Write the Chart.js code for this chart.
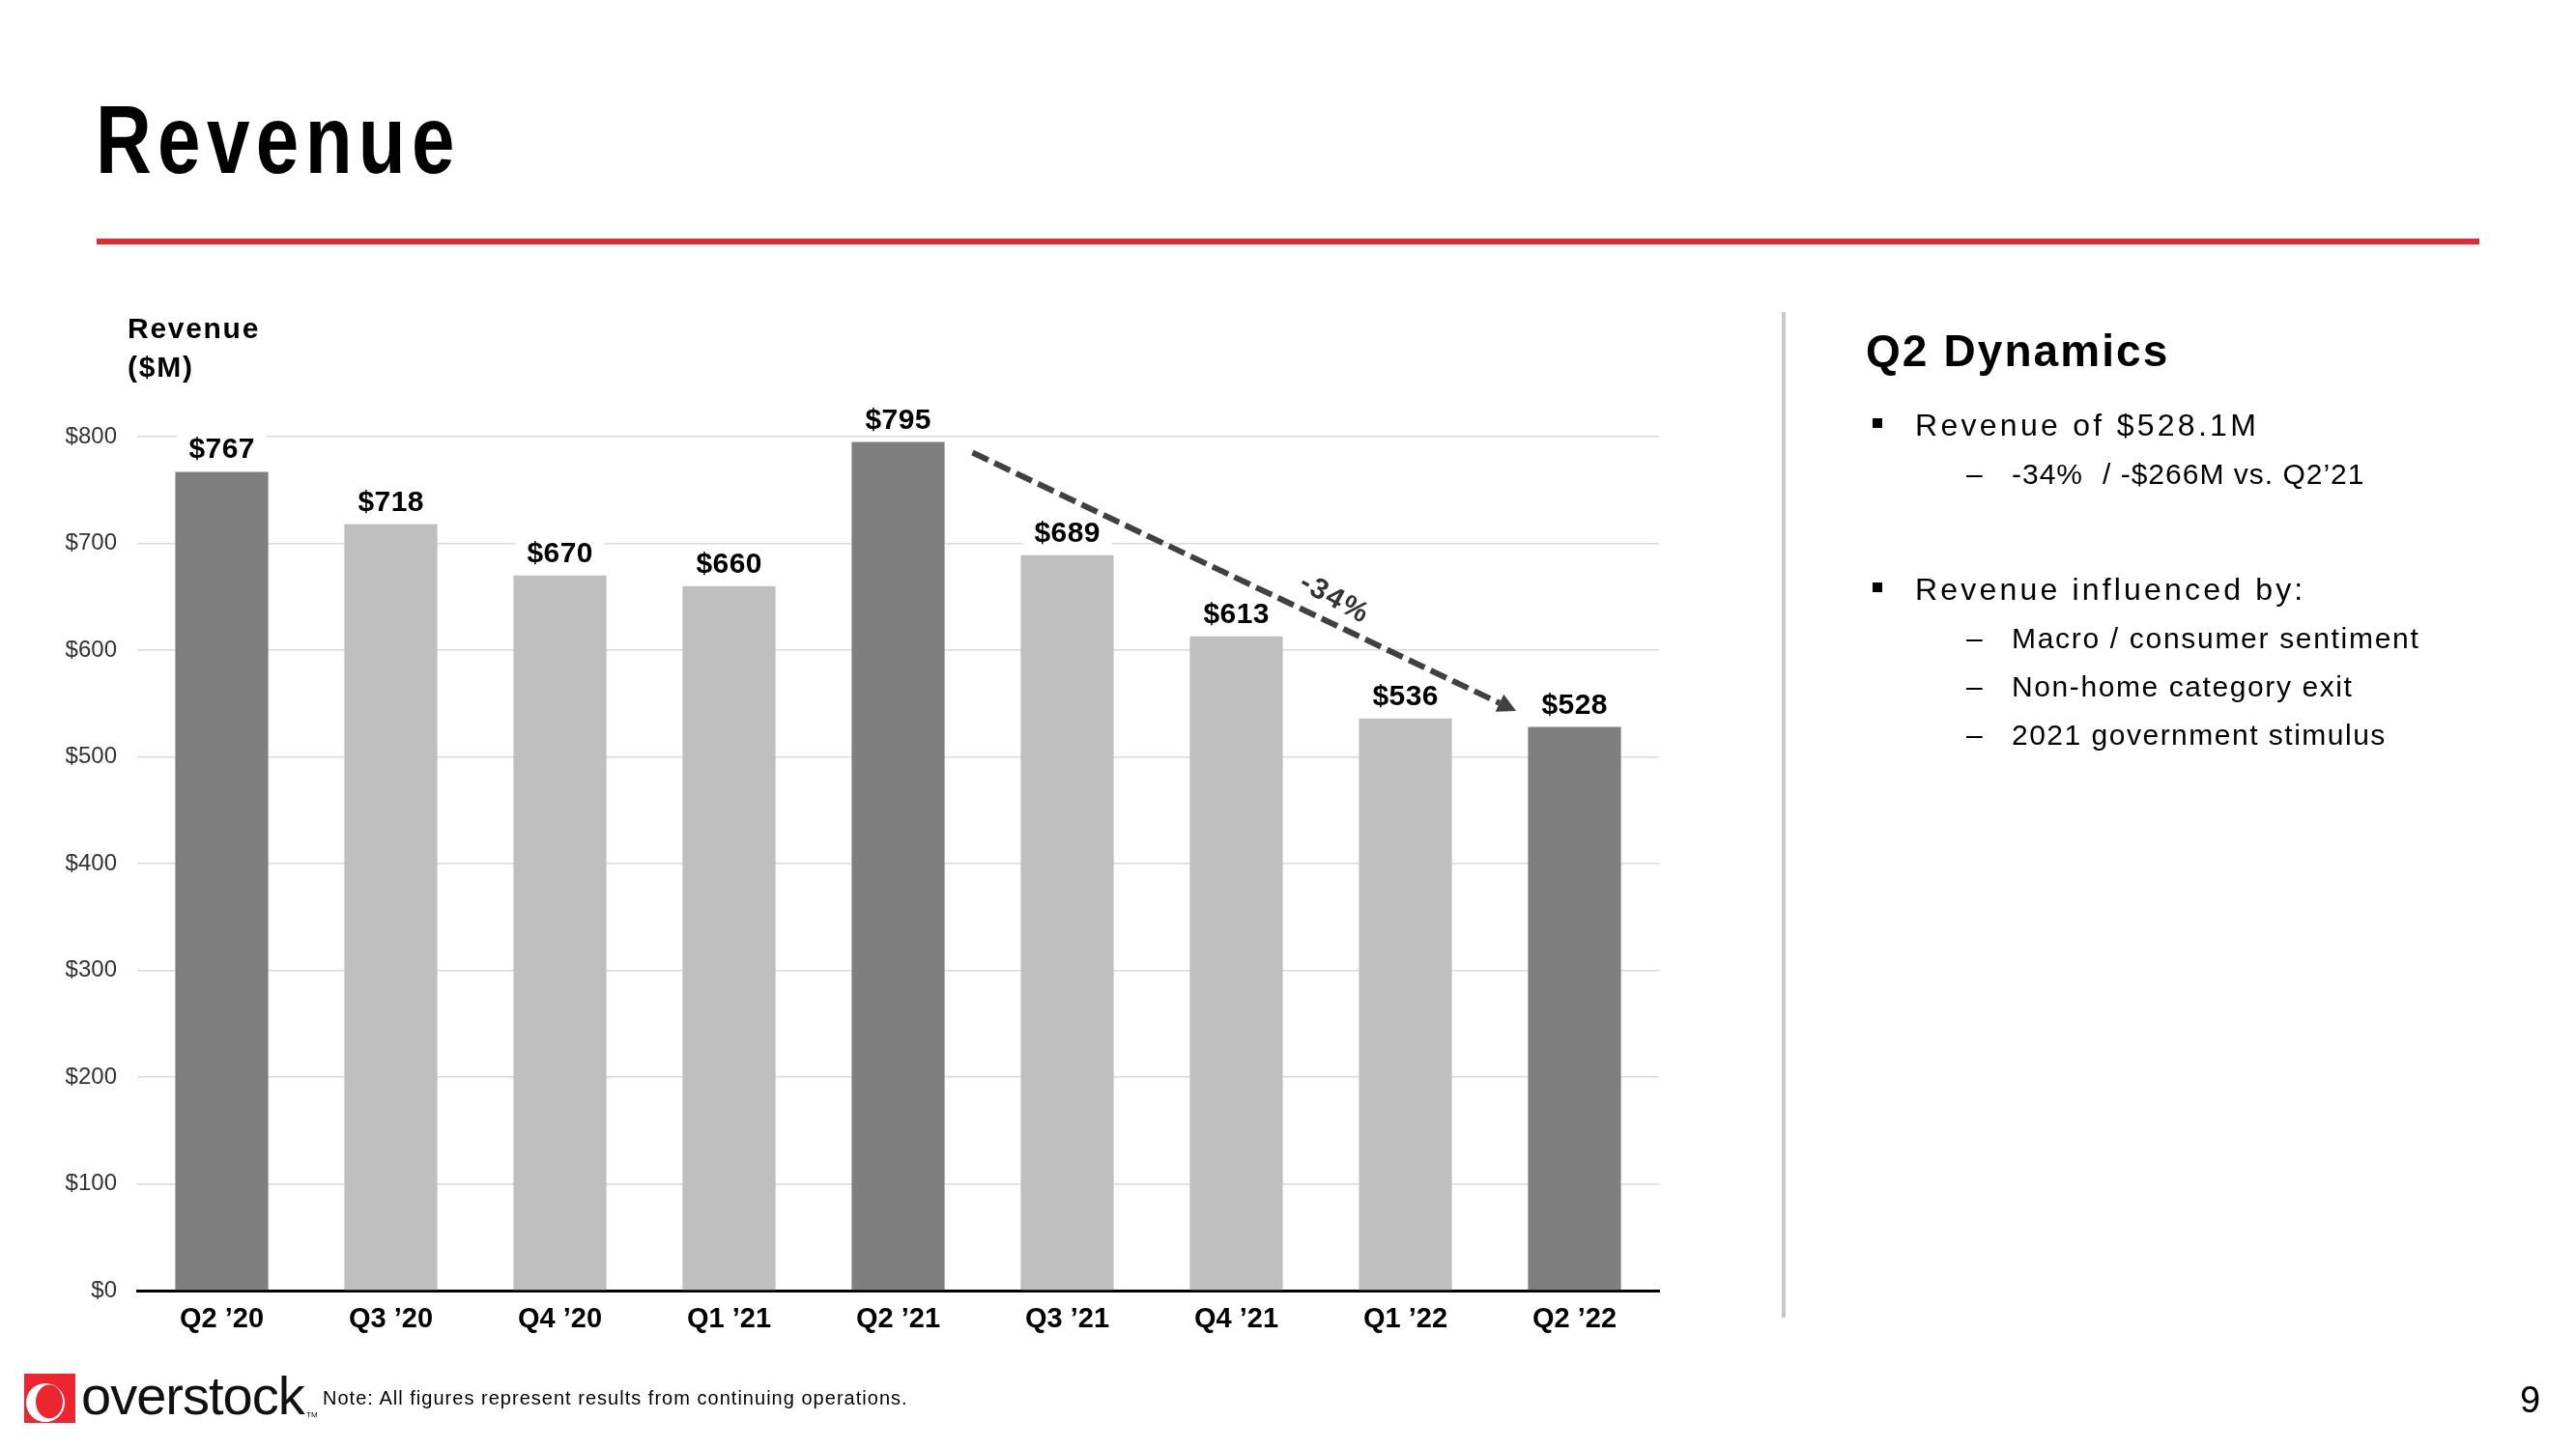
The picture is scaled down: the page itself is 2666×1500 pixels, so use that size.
<!DOCTYPE html>
<html><head><meta charset="utf-8">
<script src="https://cdn.jsdelivr.net/npm/chart.js@4.4.1/dist/chart.umd.min.js"></script>
<style>
html,body{margin:0;padding:0;background:#fff;}
#page{position:relative;width:2666px;height:1500px;overflow:hidden;font-family:'Liberation Sans',Arial,Helvetica,sans-serif;color:#000;background:#fff;}
#chartWrap{position:absolute;left:0;top:0;width:2666px;height:1500px;}
.t{position:absolute;white-space:nowrap;line-height:1;display:inline-block;transform-origin:0 0;}
.b{font-weight:bold;}
</style></head>
<body><div id="page">
<div id="chartWrap"><canvas id="c"></canvas></div>

<div class="t b" data-w="378" data-s="0.8" style="left:99px;top:94px;font-size:100px;">Revenue</div>
<div style="position:absolute;left:100px;top:247px;width:2466px;height:6px;background:#ED2530;"></div>

<div class="t b" data-w="137" style="left:132px;top:325px;font-size:30px;">Revenue</div>
<div class="t b" data-w="69" style="left:132px;top:365px;font-size:30px;">($M)</div>

<div style="position:absolute;left:1844px;top:323px;width:4px;height:1041px;background:#C8C8C8;"></div>

<div class="t b" data-w="314" style="left:1931px;top:340px;font-size:46px;">Q2 Dynamics</div>
<div style="position:absolute;left:1938px;top:433px;width:10px;height:10px;background:#000;"></div>
<div class="t" data-w="356" style="left:1982px;top:424px;font-size:32px;">Revenue of $528.1M</div>
<div class="t" style="left:2035px;top:476px;font-size:30px;">–</div>
<div class="t" data-w="74" style="left:2082px;top:476px;font-size:30px;">-34%</div>
<div class="t" style="left:2176px;top:476px;font-size:30px;letter-spacing:1px;">/ -$266M vs. Q2’21</div>

<div style="position:absolute;left:1938px;top:603px;width:10px;height:10px;background:#000;"></div>
<div class="t" data-w="404" style="left:1982px;top:594px;font-size:32px;">Revenue influenced by:</div>
<div class="t" style="left:2035px;top:646px;font-size:30px;">–</div>
<div class="t" data-w="422" style="left:2082px;top:646px;font-size:30px;">Macro / consumer sentiment</div>
<div class="t" style="left:2035px;top:696px;font-size:30px;">–</div>
<div class="t" data-w="354" style="left:2082px;top:696px;font-size:30px;">Non-home category exit</div>
<div class="t" style="left:2035px;top:746px;font-size:30px;">–</div>
<div class="t" data-w="388" style="left:2082px;top:746px;font-size:30px;">2021 government stimulus</div>

<svg style="position:absolute;left:25px;top:1422px;" width="53" height="51" viewBox="0 0 53 51">
  <rect x="0" y="0" width="53" height="51" fill="#ED2530"/>
  <ellipse cx="22" cy="30" rx="20" ry="20" fill="#fff"/>
  <ellipse cx="26" cy="29" rx="14" ry="17.5" fill="#ED2530"/>
</svg>
<div class="t" style="left:84px;top:1417px;font-size:56px;letter-spacing:-1px;color:#111;">overstock</div>
<div class="t" style="left:317px;top:1461px;font-size:8px;">TM</div>
<div class="t" data-w="605" style="left:334px;top:1437px;font-size:20px;">Note: All figures represent results from continuing operations.</div>
<div class="t" style="left:2608px;top:1430px;font-size:38px;">9</div>
</div>

<script>
const categories = ['Q2 ’20','Q3 ’20','Q4 ’20','Q1 ’21','Q2 ’21','Q3 ’21','Q4 ’21','Q1 ’22','Q2 ’22'];
const revenue = [767, 718, 670, 660, 795, 689, 613, 536, 528];
const valueLabels = ['$767','$718','$670','$660','$795','$689','$613','$536','$528'];
const highlighted = [true, false, false, false, true, false, false, false, true];
const yTickValues = [0, 100, 200, 300, 400, 500, 600, 700, 800];
const changeLabel = '-34%';
const changeFrom = 4;   // Q2 '21
const changeTo = 8;     // Q2 '22

const FONT = "'Liberation Sans', Arial, Helvetica, sans-serif";

// fit letter-spacing (and optional horizontal compression) of texts to the measured widths
document.querySelectorAll('[data-w]').forEach(el => {
  const s = parseFloat(el.dataset.s || '1');
  el.style.letterSpacing = '0px';
  const nat = el.offsetWidth;
  const n = [...el.textContent].length;
  const ls = (parseFloat(el.dataset.w) / s - nat) / n;
  el.style.letterSpacing = ls.toFixed(2) + 'px';
  if (s !== 1) el.style.transform = 'scaleX(' + s + ')';
});

function fitSpacing(ctx, text, target) {
  ctx.letterSpacing = '0px';
  const w = ctx.measureText(text).width;
  return (target - w) / (text.length - 1);
}

const valueLabelPlugin = {
  id: 'valueLabels',
  afterDatasetsDraw(chart) {
    const ctx = chart.ctx;
    const meta = chart.getDatasetMeta(0);
    ctx.save();
    ctx.font = 'bold 30px ' + FONT;
    const ls = fitSpacing(ctx, '$767', 68);
    ctx.letterSpacing = ls + 'px';
    ctx.textAlign = 'left';
    ctx.textBaseline = 'alphabetic';
    meta.data.forEach((bar, i) => {
      const txt = valueLabels[i];
      const w = ctx.measureText(txt).width - ls;
      const base = bar.y - 14;
      ctx.fillStyle = '#ffffff';
      ctx.fillRect(bar.x - w / 2 - 12, base - 28, w + 24, 33);
      ctx.fillStyle = '#000000';
      ctx.fillText(txt, bar.x - w / 2, base);
    });
    ctx.restore();
  }
};

const trendPlugin = {
  id: 'trend',
  afterDraw(chart) {
    const xs = chart.scales.x, ys = chart.scales.y, ctx = chart.ctx;
    const x1 = xs.getPixelForValue(changeFrom + 0.44);
    const y1 = ys.getPixelForValue(revenue[changeFrom] - 10);
    const x2 = xs.getPixelForValue(changeTo - 0.345);
    const y2 = ys.getPixelForValue(revenue[changeTo] + 15);
    const ang = Math.atan2(y2 - y1, x2 - x1);
    const headLen = 19, headHalf = 10;
    const bx = x2 - Math.cos(ang) * headLen, by = y2 - Math.sin(ang) * headLen;
    ctx.save();
    ctx.strokeStyle = '#404040';
    ctx.fillStyle = '#404040';
    ctx.lineWidth = 6;
    ctx.setLineDash([18, 7]);
    ctx.beginPath();
    ctx.moveTo(x1, y1);
    ctx.lineTo(bx, by);
    ctx.stroke();
    ctx.setLineDash([]);
    ctx.beginPath();
    ctx.moveTo(x2, y2);
    ctx.lineTo(bx + Math.sin(ang) * headHalf, by - Math.cos(ang) * headHalf);
    ctx.lineTo(bx - Math.sin(ang) * headHalf, by + Math.cos(ang) * headHalf);
    ctx.closePath();
    ctx.fill();
    // label
    const t = 0.646;
    const mx = x1 + (x2 - x1) * t, my = y1 + (y2 - y1) * t;
    const off = 24;
    const lx = mx + Math.sin(ang) * off, ly = my - Math.cos(ang) * off;
    ctx.translate(lx, ly);
    ctx.rotate(29 * Math.PI / 180);
    ctx.font = 'bold 30px ' + FONT;
    const ls = fitSpacing(ctx, changeLabel, 76);
    ctx.letterSpacing = ls + 'px';
    const w = ctx.measureText(changeLabel).width - ls;
    ctx.textAlign = 'left';
    ctx.textBaseline = 'middle';
    ctx.fillStyle = '#333333';
    ctx.fillText(changeLabel, -w / 2, 0);
    ctx.restore();
  }
};

new Chart(document.getElementById('c'), {
  type: 'bar',
  data: {
    labels: categories,
    datasets: [{
      data: revenue,
      backgroundColor: highlighted.map(h => h ? '#7F7F7F' : '#BFBFBF'),
      borderWidth: 0,
      barPercentage: 0.55,
      categoryPercentage: 1.0
    }]
  },
  options: {
    responsive: true,
    maintainAspectRatio: false,
    animation: false,
    devicePixelRatio: 1,
    layout: { padding: { left: 0, top: 452, right: 949, bottom: 0 } },
    plugins: { legend: { display: false }, tooltip: { enabled: false }, title: { display: false } },
    scales: {
      x: {
        grid: { display: false, drawTicks: false },
        border: { display: true, color: '#000000', width: 3 },
        ticks: { color: '#000000', font: { family: FONT, size: 29, weight: 'bold' }, padding: 13, maxRotation: 0, autoSkip: false },
        afterFit(scale) { scale.height = 164; }
      },
      y: {
        min: 0, max: 800,
        afterBuildTicks(scale) { scale.ticks = yTickValues.map(v => ({ value: v })); },
        grid: { color: '#D9D9D9', lineWidth: 1.5, drawTicks: false },
        border: { display: false },
        ticks: { color: '#333333', font: { family: FONT, size: 24 }, padding: 21, callback: v => '$' + v },
        afterFit(scale) { scale.width = 142; }
      }
    }
  },
  plugins: [valueLabelPlugin, trendPlugin]
});
</script>
</body></html>
